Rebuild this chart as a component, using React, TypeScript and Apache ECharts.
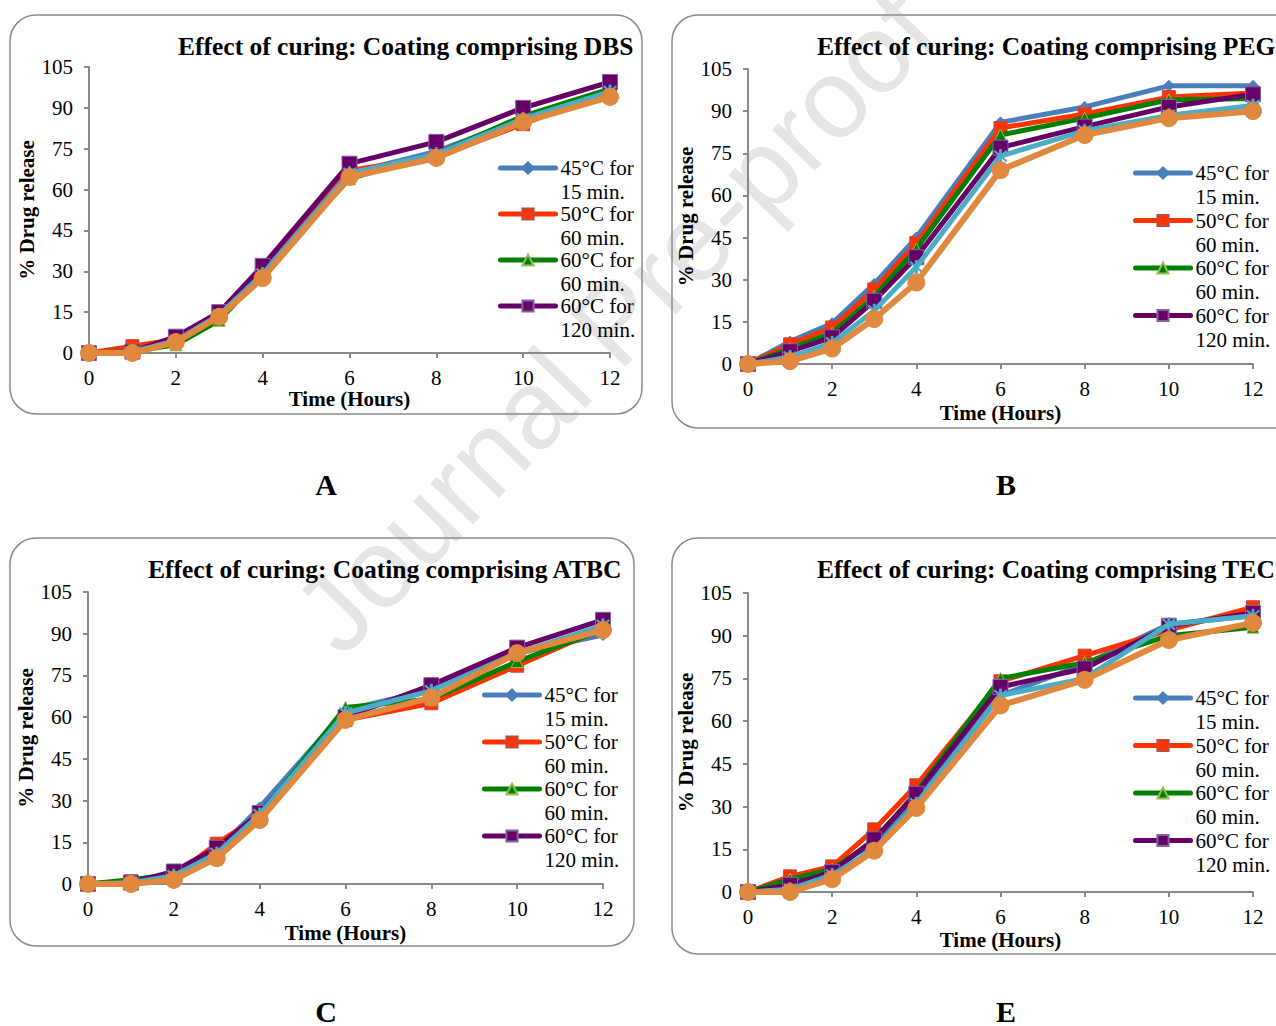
import React, { useEffect, useRef } from "react";
import * as echarts from "echarts";

const times = [0, 1, 2, 3, 4, 6, 8, 10, 12];
const seriesNames = [
  "45°C for 15 min.",
  "50°C for 60 min.",
  "60°C for 60 min.",
  "60°C for 120 min.",
  "Series 5",
  "Series 6",
];
const yTicks = [0, 15, 30, 45, 60, 75, 90, 105];
const xTicks = [0, 2, 4, 6, 8, 10, 12];

// DBS
const dbs45_15 = [0, 0.5, 5, 14, 30, 66, 74, 86, 96];
const dbs50_60 = [0, 2.5, 5, 14, 30, 67, 72, 84, 97];
const dbs60_60 = [0, 0.5, 3, 12, 29, 64, 73, 87, 97];
const dbs60_120 = [0, 0.5, 6, 15, 32, 69.5, 77.5, 90, 99.5];
const dbsS5 = [0, 0.5, 4.5, 14, 29, 66, 73, 86, 96];
const dbsS6 = [0, 0, 4, 13.3, 27.5, 64.6, 71.6, 84.8, 94];

// PEG
const peg45_15 = [0, 8, 14.5, 28.5, 45, 86, 91.5, 99, 99];
const peg50_60 = [0, 7, 13, 26.5, 43, 84, 89, 95, 96.5];
const peg60_60 = [0, 5.5, 11, 24, 41, 81.5, 87.5, 94, 94.5];
const peg60_120 = [0, 4.5, 9.5, 22.5, 38, 77, 84.5, 91.5, 96];
const pegS5 = [0, 2.5, 7.5, 19, 34.5, 74, 83, 88.5, 92];
const pegS6 = [0, 1, 5.5, 16, 29, 69, 81.5, 87.5, 90];

// ATBC
const atbc45_15 = [0, 1, 3.5, 12, 27.5, 62.5, 70, 83, 89.5];
const atbc50_60 = [0, 1, 3, 14.5, 24.5, 59, 65, 78.5, 92];
const atbc60_60 = [0, 1.5, 3.5, 9, 24.5, 63.5, 66.5, 80, 91.5];
const atbc60_120 = [0, 0.5, 4.5, 13, 25.5, 60, 71.5, 85, 95];
const atbcS5 = [0, 0.5, 3, 11, 25, 61.5, 69.5, 83, 93];
const atbcS6 = [0, 0, 1.5, 9.3, 23, 59, 67, 83, 91.3];

// TEC
const tec45_15 = [0, 2, 8.5, 17, 32.5, 69, 80, 94, 97];
const tec50_60 = [0, 5.5, 9, 22, 37.5, 74, 83, 92, 100];
const tec60_60 = [0, 4.5, 8, 18, 35, 75, 80.5, 90, 93];
const tec60_120 = [0, 2.5, 7, 18.5, 34.5, 72, 78.5, 93.5, 98];
const tecS5 = [0, 1, 6, 15, 31, 69, 75, 94, 97];
const tecS6 = [0, 0, 4.5, 14.5, 29.5, 65.5, 74.5, 88.5, 94.5];

const panelTitles = [
  "Effect of curing: Coating comprising DBS",
  "Effect of curing: Coating comprising PEG",
  "Effect of curing: Coating comprising ATBC",
  "Effect of curing: Coating comprising TEC",
];
const panelLetters = ["A", "B", "C", "E"];
const panelData = [
  [dbs45_15, dbs50_60, dbs60_60, dbs60_120, dbsS5, dbsS6],
  [peg45_15, peg50_60, peg60_60, peg60_120, pegS5, pegS6],
  [atbc45_15, atbc50_60, atbc60_60, atbc60_120, atbcS5, atbcS6],
  [tec45_15, tec50_60, tec60_60, tec60_120, tecS5, tecS6],
];

const SERIF = '"Liberation Serif", "Times New Roman", serif';
const starPath =
  "path://M-6,-5 L-5,-6 L6,5 L5,6 Z M5,-6 L6,-5 L-5,6 L-6,5 Z M-0.9,-7 L0.9,-7 L0.9,7 L-0.9,7 Z";

const styles = [
  { color: "#4a7ebb", symbol: "diamond", size: 11, border: "#4a7ebb", width: 5 },
  { color: "#ff3300", symbol: "rect", size: 13, border: "#be4b48", width: 5 },
  { color: "#008000", symbol: "triangle", size: 12, border: "#9bbb59", width: 5 },
  { color: "#660066", symbol: "rect", size: 15, border: "#8064a2", width: 5 },
  { color: "#4bacc6", symbol: starPath, size: 13, border: "#4bacc6", width: 5 },
  { color: "#e0883e", symbol: "circle", size: 17, border: "#e0883e", width: 6 },
];

// layout (pixels)
const grids = [
  { left: 89, top: 67, width: 521, height: 286 },
  { left: 748, top: 69, width: 505, height: 295 },
  { left: 88, top: 592, width: 515, height: 292 },
  { left: 748, top: 593, width: 505, height: 299 },
];
const titlePos = [
  { left: 178, top: 33 },
  { left: 817, top: 33 },
  { left: 148, top: 556 },
  { left: 817, top: 556 },
];
const legendPos = [
  { left: 498, first: 168, gap: -26 },
  { left: 1133, first: 173, gap: -24.5 },
  { left: 482, first: 695, gap: -25 },
  { left: 1133, first: 698, gap: -24.5 },
];
const yNameGap = [50, 49, 49, 49];
const xNameGap = [35, 38, 38, 37];
const frames = [
  { x: 10, y: 15, w: 632, h: 399 },
  { x: 672, y: 15, w: 640, h: 413 },
  { x: 10, y: 538, w: 624, h: 408 },
  { x: 672, y: 538, w: 640, h: 416 },
];
const letterPos = [
  { x: 326, y: 484 },
  { x: 1006, y: 484 },
  { x: 326, y: 1011 },
  { x: 1006, y: 1011 },
];

export default function App() {
  const ref = useRef<HTMLDivElement>(null);
  useEffect(() => {
    document.body.style.margin = "0";
    const chart = echarts.init(ref.current!, null, { renderer: "svg" });

    const xAxis: any[] = [];
    const yAxis: any[] = [];
    const series: any[] = [];
    const legend: any[] = [];
    const title: any[] = [];
    const graphic: any[] = [];

    grids.forEach((g, i) => {
      xAxis.push({
        type: "value",
        gridIndex: i,
        min: 0,
        max: 12,
        interval: 2,
        name: "Time (Hours)",
        nameLocation: "middle",
        nameGap: xNameGap[i],
        nameTextStyle: { fontFamily: SERIF, fontWeight: "bold", fontSize: 21, color: "#000" },
        axisLine: { lineStyle: { color: "#888888", width: 2 } },
        axisTick: { show: true, length: 5, lineStyle: { color: "#888888", width: 2 } },
        axisLabel: {
          fontFamily: SERIF,
          fontSize: 21,
          color: "#000",
          margin: 14,
          formatter: (v: number) => (xTicks.includes(v) ? String(v) : ""),
        },
        splitLine: { show: false },
      });
      yAxis.push({
        type: "value",
        gridIndex: i,
        min: 0,
        max: 105,
        interval: 15,
        name: "% Drug release",
        nameLocation: "middle",
        nameGap: yNameGap[i],
        nameRotate: 90,
        nameTextStyle: { fontFamily: SERIF, fontWeight: "bold", fontSize: 21, color: "#000" },
        axisLine: { show: true, lineStyle: { color: "#888888", width: 2 } },
        axisTick: { show: true, length: 5, lineStyle: { color: "#888888", width: 2 } },
        axisLabel: {
          fontFamily: SERIF,
          fontSize: 21,
          color: "#000",
          margin: 16,
          formatter: (v: number) => (yTicks.includes(v) ? String(v) : ""),
        },
        splitLine: { show: false },
      });
      panelData[i].forEach((vals, s) => {
        const st = styles[s];
        series.push({
          type: "line",
          name: seriesNames[s],
          xAxisIndex: i,
          yAxisIndex: i,
          data: times.map((t, k) => [t, vals[k]]),
          symbol: st.symbol,
          symbolSize: st.size,
          showAllSymbol: true,
          lineStyle: { color: st.color, width: st.width },
          itemStyle: { color: st.color, borderColor: st.border, borderWidth: 1, opacity: 1 },
          z: 2 + s * 0.01,
        });
      });
      // 3-line legend text (blank, line1, line2) so that the icon aligns with line1
      const lh = 24;
      legend.push({
        orient: "vertical",
        left: legendPos[i].left,
        top: legendPos[i].first - 1.5 * lh,
        padding: 0,
        itemWidth: 55,
        itemHeight: 14,
        itemGap: legendPos[i].gap,
        selectedMode: false,
        data: seriesNames.slice(0, 4),
        formatter: (n: string) => " \n" + n.replace(" for ", " for\n"),
        lineStyle: { width: 5, cap: "round" },
        textStyle: {
          fontFamily: SERIF,
          fontSize: 21,
          color: "#000",
          lineHeight: lh,
        },
      });
      title.push({
        text: panelTitles[i],
        left: titlePos[i].left,
        top: titlePos[i].top,
        padding: 0,
        textStyle: { fontFamily: SERIF, fontWeight: "bold", fontSize: 25.5, color: "#000" },
      });
      const f = frames[i];
      graphic.push({
        type: "rect",
        shape: { x: f.x, y: f.y, width: f.w, height: f.h, r: 26 },
        style: { fill: "none", stroke: "#8a8a8a", lineWidth: 1.5 },
        z: 1,
      });
      graphic.push({
        type: "text",
        x: letterPos[i].x,
        y: letterPos[i].y,
        style: {
          text: panelLetters[i],
          font: `bold 30px ${SERIF}`,
          fill: "#000",
          textAlign: "center",
          textVerticalAlign: "middle",
        },
        z: 1,
      });
    });

    graphic.push({
      type: "text",
      x: 615,
      y: 322,
      rotation: (46 * Math.PI) / 180,
      style: {
        text: "Journal Pre-proof",
        font: '112px "Liberation Sans", Arial, sans-serif',
        fill: "#e5e5e5",
        textAlign: "center",
        textVerticalAlign: "middle",
      },
      z: 0,
    });

    chart.setOption({
      animation: false,
      backgroundColor: "#ffffff",
      grid: grids.map((g) => ({ ...g })),
      xAxis,
      yAxis,
      series,
      legend,
      title,
      graphic,
    });
    return () => chart.dispose();
  }, []);
  return (
    <div
      ref={ref}
      style={{ position: "absolute", left: 0, top: 0, width: 1276, height: 1026 }}
    />
  );
}
